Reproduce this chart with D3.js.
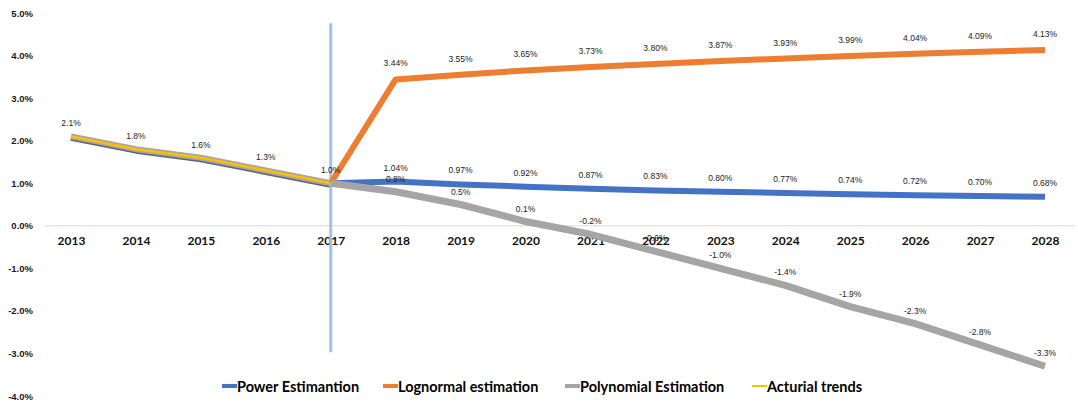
<!DOCTYPE html>
<html>
<head>
<meta charset="utf-8">
<script src="https://cdn.jsdelivr.net/npm/d3@7/dist/d3.min.js"></script>
<style>
  html, body { margin: 0; padding: 0; background: #fff; }
  svg { display: block; }
</style>
</head>
<body>
<svg id="chart" width="1078" height="406"></svg>
<script>
// Years on the horizontal axis
const years = [2013, 2014, 2015, 2016, 2017, 2018, 2019, 2020, 2021, 2022, 2023, 2024, 2025, 2026, 2027, 2028];

// Observed rates 2013–2017 (%)
const historyYears = [2013, 2014, 2015, 2016, 2017];
const actualValues = [2.1, 1.8, 1.6, 1.3, 1.0];

// Forecasts 2017–2028 (%), each starting from the last observed value
const forecastYears = [2017, 2018, 2019, 2020, 2021, 2022, 2023, 2024, 2025, 2026, 2027, 2028];
const powerValues = [1.0, 1.04, 0.97, 0.92, 0.87, 0.83, 0.80, 0.77, 0.74, 0.72, 0.70, 0.68];
const lognormalValues = [1.0, 3.44, 3.55, 3.65, 3.73, 3.80, 3.87, 3.93, 3.99, 4.04, 4.09, 4.13];
const polynomialValues = [1.0, 0.8, 0.5, 0.1, -0.2, -0.6, -1.0, -1.4, -1.9, -2.3, -2.8, -3.3];

// Decimals shown in each series' value labels
const powerDigits = 2, lognormalDigits = 2, polynomialDigits = 1, actualDigits = 1;

// Y-axis ticks (%)
const yTicks = [5, 4, 3, 2, 1, 0, -1, -2, -3, -4];

// Vertical divider marking the start of the forecast
const dividerYear = 2017;
const dividerSpan = [4.76, -2.97];

const legendNames = ["Power Estimantion", "Lognormal estimation", "Polynomial Estimation", "Acturial trends"];

const colors = {
  power: "#4472C4",
  lognormal: "#ED7D31",
  polynomial: "#A5A5A5",
  actual: "#FFC000",
  divider: "#9DC3E6"
};

const svg = d3.select("#chart");

const x = d3.scalePoint().domain(years).range([71, 1045]);
const y = d3.scaleLinear().domain([-4, 5]).range([396, 13]);

const pct = digits => v => d3.format("." + digits + "f")(v).replace("\u2212", "-") + "%";

// Zero line
svg.append("line")
  .attr("x1", 45).attr("x2", 1075)
  .attr("y1", y(0)).attr("y2", y(0))
  .attr("stroke", "#d9d9d9").attr("stroke-width", 1);

// Y axis labels
const yAxis = d3.axisLeft(y).tickValues(yTicks).tickFormat(pct(1)).tickSize(0).tickPadding(0);
const yg = svg.append("g").attr("transform", "translate(33,0)").call(yAxis);
yg.select(".domain").remove();
yg.selectAll("text")
  .attr("font-family", "'Liberation Sans', Arial, sans-serif")
  .attr("font-size", 9.5).attr("font-weight", "bold").attr("fill", "#1a1a1a");

// X axis labels just under the zero line
const xAxis = d3.axisBottom(x).tickSize(0).tickPadding(0);
const xg = svg.append("g").attr("transform", `translate(0,${y(0) + 11})`).call(xAxis);
xg.select(".domain").remove();
xg.selectAll("text")
  .attr("font-family", "Lato, 'Liberation Sans', sans-serif")
  .attr("font-size", 12).attr("font-weight", "bold").attr("fill", "#111");

const line = d3.line().x(d => x(d[0])).y(d => y(d[1]));

const histPairs = v => historyYears.map((yr, i) => [yr, v[i]]);
const fcPairs = v => forecastYears.map((yr, i) => [yr, v[i]]);

// Historical segment shared by the fitted series
svg.append("path").datum(histPairs(actualValues))
  .attr("d", line).attr("fill", "none")
  .attr("stroke", "#5a6478").attr("stroke-width", 6).attr("transform", "translate(0,1.5)")
  .attr("stroke-linejoin", "round");
svg.append("path").datum(histPairs(actualValues))
  .attr("d", line).attr("fill", "none")
  .attr("stroke", colors.polynomial).attr("stroke-width", 6)
  .attr("stroke-linejoin", "round");

// Divider
svg.append("line")
  .attr("x1", x(dividerYear)).attr("x2", x(dividerYear))
  .attr("y1", y(dividerSpan[0])).attr("y2", y(dividerSpan[1]))
  .attr("stroke", colors.divider).attr("stroke-width", 3);

// Forecast lines
const series = [
  { key: "power", values: powerValues, width: 6 },
  { key: "lognormal", values: lognormalValues, width: 6 },
  { key: "polynomial", values: polynomialValues, width: 7 }
];

series.forEach(s => {
  svg.append("path").datum(fcPairs(s.values))
    .attr("d", line).attr("fill", "none")
    .attr("stroke", colors[s.key]).attr("stroke-width", s.width)
    .attr("stroke-linejoin", "round");
});

// Actual trend line on top
svg.append("path").datum(histPairs(actualValues))
  .attr("d", line).attr("fill", "none")
  .attr("stroke", colors.actual).attr("stroke-width", 2.5)
  .attr("stroke-linejoin", "round");

// Data labels
function addLabels(pairs, digits, lift) {
  svg.append("g").selectAll("text").data(pairs).join("text")
    .attr("x", d => x(d[0]))
    .attr("y", d => y(d[1]) - lift)
    .attr("text-anchor", "middle")
    .attr("font-family", "'Liberation Sans', Arial, sans-serif")
    .attr("font-size", 8.5)
    .attr("fill", "#222")
    .text(d => pct(digits)(d[1]));
}
addLabels(fcPairs(powerValues).slice(1), powerDigits, 11);
addLabels(fcPairs(lognormalValues).slice(1), lognormalDigits, 13);
addLabels(fcPairs(polynomialValues).slice(1), polynomialDigits, 10);
addLabels(histPairs(actualValues), actualDigits, 10);

// Legend
const legendX = [222, 383, 565, 752];
const legendY = 386;
const lg = svg.append("g");
legendNames.forEach((name, i) => {
  const key = ["power", "lognormal", "polynomial", "actual"][i];
  lg.append("line")
    .attr("x1", legendX[i]).attr("x2", legendX[i] + 15)
    .attr("y1", legendY).attr("y2", legendY)
    .attr("stroke", colors[key]).attr("stroke-width", key === "actual" ? 2 : 4);
  lg.append("text")
    .attr("x", legendX[i] + 15).attr("y", legendY + 5.5)
    .attr("font-family", "Lato, 'Liberation Sans', sans-serif")
    .attr("font-size", 14.5).attr("font-weight", "bold")
    .attr("fill", "#000")
    .text(name);
});
</script>
</body>
</html>
